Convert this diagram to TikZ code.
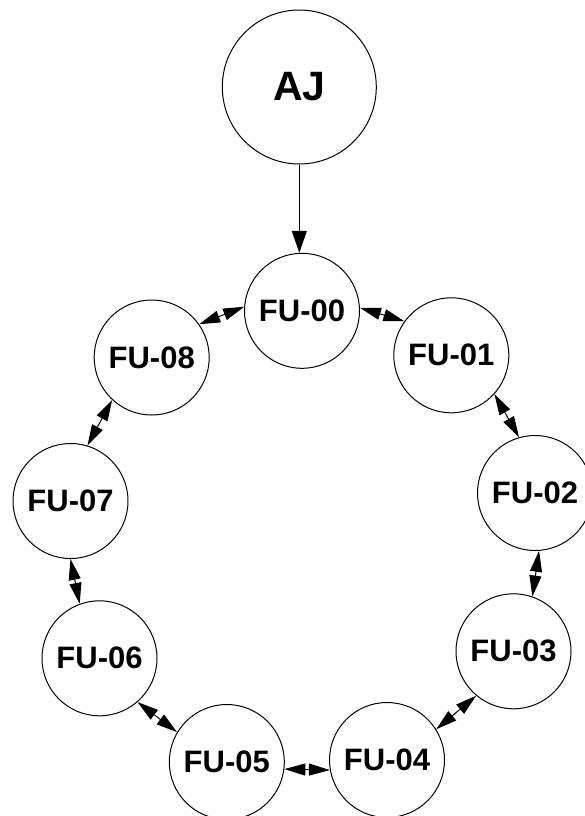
\documentclass[tikz,border=0pt]{standalone}
\usepackage{fontspec}
\setmainfont{Liberation Sans}
\usetikzlibrary{arrows.meta}
\begin{document}
\begin{tikzpicture}[x=1pt,y=-1pt,
  unit/.style={circle,draw,line width=1pt,inner sep=0pt,minimum size=115pt,
    font=\fontsize{31}{31}\selectfont\bfseries},
  head/.style={circle,draw,line width=1pt,inner sep=0pt,minimum size=154pt,
    font=\fontsize{41}{41}\selectfont\bfseries},
  link/.style={line width=1pt,{Triangle[length=21pt,width=12pt]}-{Triangle[length=21pt,width=12pt]}},
  feed/.style={line width=1pt,-{Triangle[length=22pt,width=15pt]}}]
\useasboundingbox (0,0) rectangle (584,816);
\node[head] (AJ) at (299.3,87) {AJ};
\node[unit] (F0) at (302,310.8) {FU-00};
\node[unit] (F1) at (451.3,355.3) {FU-01};
\node[unit] (F2) at (535,493) {FU-02};
\node[unit] (F3) at (513.5,651.3) {FU-03};
\node[unit] (F4) at (387,760) {FU-04};
\node[unit] (F5) at (226.8,762) {FU-05};
\node[unit] (F6) at (99.5,658.3) {FU-06};
\node[unit] (F7) at (70.5,501) {FU-07};
\node[unit] (F8) at (151.7,357.5) {FU-08};
% top-down feed into the ring
\draw[feed] (AJ.south) -- (AJ.south |- F0.north);
% ring of bidirectional links
\draw[link] (F0.3.5) -- (F1.144.8);
\draw[link] (F1.-42.9) -- (F2.106.5);
\draw[link] (F2.-86.8) -- (F3.71);
\draw[link] (F3.-130.3) -- (F4.32);
\draw[link] (F4.190) -- (F5.-7.9);
\draw[link] (F5.149.9) -- (F6.-49.2);
\draw[link] (F6.110.4) -- (F7.-90.5);
\draw[link] (F7.73.3) -- (F8.227.9);
\draw[link] (F8.35.7) -- (F0.176.7);
\end{tikzpicture}
\end{document}
